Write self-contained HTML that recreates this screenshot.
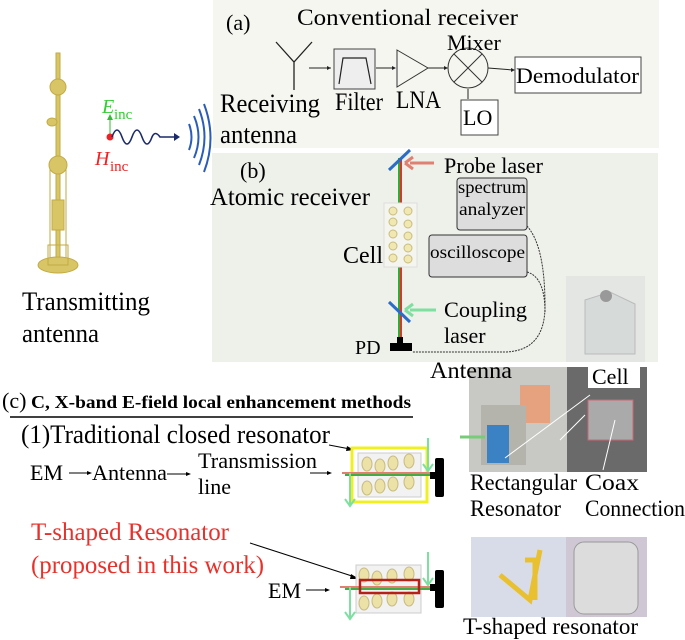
<!DOCTYPE html>
<html><head><meta charset="utf-8"><style>
body{margin:0;background:#fff}
svg{display:block;font-family:"Liberation Serif",serif}
</style></head><body>
<svg width="685" height="640" viewBox="0 0 685 640" xmlns="http://www.w3.org/2000/svg">
<rect x="213" y="0" width="446" height="148" fill="#f6f6f0"/>
<rect x="212" y="153" width="446" height="209" fill="#eef0ea"/>
<!-- (a) -->
<text x="226" y="30" font-size="22">(a)</text>
<text x="297" y="25" font-size="23" textLength="221" lengthAdjust="spacingAndGlyphs">Conventional receiver</text>
<path d="M276 42 L294 62 L312 42 M294 62 L294 90" stroke="#222" stroke-width="1.3" fill="none"/>
<line x1="309" y1="68" x2="331" y2="68" stroke="#222"/><path d="M331 68 l-4 -2 v4z" fill="#222"/>
<rect x="334" y="49" width="41" height="40" fill="#eee" stroke="#444"/>
<path d="M339 84 L343 58 L366 58 L371 84" stroke="#222" fill="none" stroke-width="1.2"/>
<line x1="376" y1="68" x2="395" y2="68" stroke="#222"/><path d="M396 68 l-4 -2 v4z" fill="#222"/>
<path d="M397 50 L428 68 L397 87Z" fill="none" stroke="#333"/>
<line x1="428" y1="68" x2="447" y2="68" stroke="#222"/><path d="M448 68 l-4 -2 v4z" fill="#222"/>
<circle cx="468" cy="68" r="20" fill="none" stroke="#333"/>
<path d="M454 54 L482 82 M482 54 L454 82" stroke="#333"/>
<line x1="488" y1="68" x2="513" y2="70" stroke="#222"/><path d="M515 70 l-4 -2 v4z" fill="#222"/>
<rect x="515" y="57" width="126" height="36" fill="#fff" stroke="#444"/>
<text x="516" y="83" font-size="22" textLength="123" lengthAdjust="spacingAndGlyphs">Demodulator</text>
<text x="447" y="50" font-size="22">Mixer</text>
<line x1="468" y1="99" x2="468" y2="89" stroke="#222"/>
<rect x="461" y="100" width="37" height="35" fill="#fff" stroke="#444"/>
<text x="463" y="125" font-size="22">LO</text>
<text x="220" y="112" font-size="26" textLength="100" lengthAdjust="spacingAndGlyphs">Receiving</text>
<text x="220" y="143" font-size="26" textLength="77" lengthAdjust="spacingAndGlyphs">antenna</text>
<text x="335" y="110" font-size="25" textLength="48" lengthAdjust="spacingAndGlyphs">Filter</text>
<text x="396" y="108" font-size="25" textLength="45" lengthAdjust="spacingAndGlyphs">LNA</text>
<!-- tower -->
<g fill="#d8c566" stroke="#c2ab45">
<rect x="56" y="53" width="4" height="210"/>
<rect x="50" y="165" width="16" height="95" fill="none"/>
<circle cx="58" cy="87" r="8"/><circle cx="58" cy="165" r="9"/>
<ellipse cx="52" cy="122" rx="5" ry="4"/>
<rect x="52" y="200" width="12" height="30"/>
<ellipse cx="58" cy="265" rx="20" ry="8"/>
<rect x="48" y="245" width="20" height="20" fill="none"/>
</g>
<text x="22" y="310" font-size="26" textLength="128" lengthAdjust="spacingAndGlyphs">Transmitting</text>
<text x="22" y="342" font-size="26" textLength="77" lengthAdjust="spacingAndGlyphs">antenna</text>
<!-- E/H -->
<line x1="110" y1="136" x2="110" y2="118" stroke="#3b3"/><path d="M110 114 l-3 6 h6z" fill="#3b3"/>
<text x="102" y="113" font-size="20" font-style="italic" fill="#3c3">E</text><text x="114" y="119" font-size="15" fill="#3c3">inc</text>
<circle cx="110" cy="137" r="3.5" fill="#e22"/>
<text x="95" y="165" font-size="20" font-style="italic" fill="#e22">H</text><text x="110" y="171" font-size="15" fill="#e22">inc</text>
<path d="M112 137 q5 -14 10 0 t10 0 t10 0 t10 0 q3 -7 8 0 h17" stroke="#1a2a6a" stroke-width="1.6" fill="none"/>
<path d="M180 137 l-6 -4 v8z" fill="#1a2a6a"/>
<g stroke="#2a5cb8" stroke-width="2" fill="none">
<path d="M189 124 q5 13 0 26"/><path d="M194 116 q9 21 0 42"/><path d="M199 109 q11 28 0 56"/><path d="M204 104 q13 34 0 68"/>
</g>
<!-- (b) -->
<text x="240" y="178" font-size="22">(b)</text>
<text x="210" y="205" font-size="25" textLength="160" lengthAdjust="spacingAndGlyphs">Atomic receiver</text>
<line x1="399" y1="158" x2="399" y2="340" stroke="#3a3" stroke-width="2"/>
<line x1="401" y1="158" x2="401" y2="340" stroke="#d33" stroke-width="2"/>
<line x1="389" y1="170" x2="410" y2="150" stroke="#2a6cc8" stroke-width="3"/>
<line x1="389" y1="302" x2="410" y2="322" stroke="#2a6cc8" stroke-width="3"/>
<line x1="434" y1="163" x2="410" y2="163" stroke="#e08070" stroke-width="3"/><path d="M405 163 l8 -6 M405 163 l8 6" stroke="#e08070" stroke-width="3"/>
<text x="444" y="173" font-size="22" textLength="99" lengthAdjust="spacingAndGlyphs">Probe laser</text>
<line x1="436" y1="310" x2="410" y2="310" stroke="#7de0a0" stroke-width="3"/><path d="M405 310 l8 -6 M405 310 l8 6" stroke="#7de0a0" stroke-width="3"/>
<text x="444" y="317" font-size="22" textLength="83" lengthAdjust="spacingAndGlyphs">Coupling</text>
<text x="444" y="343" font-size="22">laser</text>
<rect x="384" y="203" width="33" height="64" fill="#f5f5ef" stroke="#ddd"/>
<g fill="#f0e8b0" stroke="#c8bc80">
<circle cx="393" cy="211" r="4"/><circle cx="408" cy="211" r="4"/><circle cx="393" cy="222" r="4"/><circle cx="408" cy="224" r="4"/><circle cx="393" cy="234" r="4"/><circle cx="408" cy="236" r="4"/><circle cx="393" cy="246" r="4"/><circle cx="408" cy="248" r="4"/><circle cx="393" cy="258" r="4"/><circle cx="408" cy="259" r="4"/>
</g>
<text x="343" y="263" font-size="24">Cell</text>
<rect x="457" y="178" width="70" height="52" rx="3" fill="#ddd" stroke="#333"/>
<text x="458" y="193" font-size="18" textLength="68" lengthAdjust="spacingAndGlyphs">spectrum</text><text x="459" y="215" font-size="18" textLength="66" lengthAdjust="spacingAndGlyphs">analyzer</text>
<rect x="429" y="235" width="98" height="42" rx="3" fill="#ddd" stroke="#333"/>
<text x="430" y="258" font-size="18" textLength="95" lengthAdjust="spacingAndGlyphs">oscilloscope</text>
<path d="M527 226 q18 20 18 80 q0 45 -40 46 h-93 M527 272 q18 5 18 40" stroke="#333" fill="none" stroke-dasharray="2 1"/>
<rect x="390" y="343" width="22" height="8" fill="#000"/><rect x="397" y="337" width="6" height="7" fill="#000"/>
<text x="355" y="354" font-size="20">PD</text>
<!-- photos -->
<rect x="566" y="276" width="79" height="86" fill="#e4e6e4"/>
<path d="M585 300 l25 -8 l25 12 v50 l-50 0z" fill="#d6dad8" stroke="#bbb"/>
<circle cx="606" cy="296" r="6" fill="#999"/>
<rect x="469" y="367" width="178" height="105" fill="#9c9c9c"/>
<rect x="469" y="367" width="98" height="105" fill="#c8c8c4"/>
<rect x="567" y="367" width="80" height="105" fill="#6a6a6a"/>
<rect x="520" y="385" width="30" height="38" fill="#e6a27e"/>
<rect x="481" y="405" width="45" height="60" fill="#b4b4ac"/>
<rect x="487" y="425" width="22" height="38" fill="#3b82c4"/>
<rect x="588" y="400" width="45" height="40" fill="#aaa" stroke="#c67"/>
<text x="430" y="378" font-size="23" textLength="82" lengthAdjust="spacingAndGlyphs">Antenna</text>
<rect x="588" y="362" width="52" height="26" fill="#fff"/>
<text x="592" y="384" font-size="22">Cell</text>
<path d="M590 395 L505 458 M585 415 L560 440 M615 420 L603 470" stroke="#fff"/>
<line x1="460" y1="437" x2="485" y2="437" stroke="#7c7" stroke-width="3"/>
<rect x="471" y="537" width="95" height="80" fill="#d8dce8"/>
<rect x="566" y="537" width="81" height="80" fill="#cfc8d4"/>
<path d="M500 575 l30 25 l10 -50 M525 560 h10 v40" stroke="#e8c030" stroke-width="5" fill="none"/>
<rect x="574" y="542" width="64" height="72" rx="10" fill="#dcdcdc" stroke="#999"/>
<text x="470" y="490" font-size="23" textLength="107" lengthAdjust="spacingAndGlyphs">Rectangular</text>
<text x="585" y="490" font-size="23" textLength="54" lengthAdjust="spacingAndGlyphs">Coax</text>
<text x="470" y="516" font-size="23" textLength="91" lengthAdjust="spacingAndGlyphs">Resonator</text>
<text x="585" y="516" font-size="23" textLength="100" lengthAdjust="spacingAndGlyphs">Connection</text>
<text x="463" y="634" font-size="23" textLength="175" lengthAdjust="spacingAndGlyphs">T-shaped resonator</text>
<!-- (c) -->
<text x="2" y="408" font-size="22">(c)</text>
<text x="31" y="408" font-size="18" font-weight="bold" textLength="380" lengthAdjust="spacingAndGlyphs">C, X-band E-field local enhancement methods</text>
<line x1="10" y1="417" x2="413" y2="417" stroke="#000" stroke-width="1.5"/>
<text x="21" y="443" font-size="26" textLength="309" lengthAdjust="spacingAndGlyphs">(1)Traditional closed resonator</text>
<line x1="329" y1="445" x2="350" y2="449" stroke="#000"/><path d="M354 450 l-7 -4 l-1 5z" fill="#000"/>
<text x="30" y="480" font-size="22">EM</text>
<line x1="69" y1="473" x2="90" y2="473" stroke="#000"/><path d="M92 473 l-5 -2 v4z" fill="#000"/>
<text x="92" y="480" font-size="22" textLength="75" lengthAdjust="spacingAndGlyphs">Antenna</text>
<line x1="167" y1="474" x2="189" y2="474" stroke="#000"/><path d="M191 474 l-5 -2 v4z" fill="#000"/>
<text x="198" y="468" font-size="22" textLength="119" lengthAdjust="spacingAndGlyphs">Transmission</text>
<text x="198" y="494" font-size="22">line</text>
<line x1="310" y1="473" x2="330" y2="473" stroke="#000"/><path d="M332 473 l-5 -2 v4z" fill="#000"/>
<rect x="352" y="448" width="75" height="54" fill="#fff" stroke="#f0f020" stroke-width="3"/>
<rect x="358" y="453" width="63" height="44" fill="#f2f2f2" stroke="#ccc"/>
<g fill="#ece2a8" stroke="#c8bc80">
<ellipse cx="367" cy="464" rx="5" ry="7"/><ellipse cx="380" cy="466" rx="5" ry="7"/><ellipse cx="393" cy="463" rx="5" ry="7"/><ellipse cx="409" cy="461" rx="5" ry="7"/>
<ellipse cx="367" cy="488" rx="5" ry="7"/><ellipse cx="380" cy="486" rx="5" ry="7"/><ellipse cx="393" cy="484" rx="5" ry="7"/><ellipse cx="409" cy="482" rx="5" ry="7"/>
</g>
<line x1="342" y1="473" x2="432" y2="473" stroke="#e08070" stroke-width="2"/>
<line x1="345" y1="475" x2="432" y2="475" stroke="#4a4" stroke-width="2"/>
<line x1="350" y1="473" x2="350" y2="505" stroke="#7de0a0" stroke-width="2"/><path d="M345 499 l5 7 l5 -7" stroke="#7de0a0" fill="none" stroke-width="2"/>
<line x1="428" y1="438" x2="428" y2="470" stroke="#7de0a0" stroke-width="2"/><path d="M423 464 l5 7 l5 -7" stroke="#7de0a0" fill="none" stroke-width="2"/>
<rect x="435" y="458" width="9" height="39" rx="2" fill="#000"/><rect x="430" y="472" width="6" height="7" fill="#000"/>
<text x="31" y="540" font-size="25" fill="#e8312a" textLength="198" lengthAdjust="spacingAndGlyphs">T-shaped Resonator</text>
<text x="31" y="573" font-size="25" fill="#e8312a" textLength="233" lengthAdjust="spacingAndGlyphs">(proposed in this work)</text>
<line x1="250" y1="543" x2="355" y2="577" stroke="#000"/><path d="M359 579 l-8 -5 l-1 5z" fill="#000"/>
<text x="268" y="598" font-size="22">EM</text>
<line x1="306" y1="590" x2="328" y2="590" stroke="#000"/><path d="M330 590 l-5 -2 v4z" fill="#000"/>
<rect x="356" y="565" width="65" height="48" fill="#f2f2f2" stroke="#ccc"/>
<g fill="#ece2a8" stroke="#c8bc80">
<ellipse cx="364" cy="575" rx="5" ry="7"/><ellipse cx="377" cy="578" rx="5" ry="7"/><ellipse cx="392" cy="576" rx="5" ry="7"/><ellipse cx="409" cy="574" rx="5" ry="7"/>
<ellipse cx="364" cy="603" rx="5" ry="7"/><ellipse cx="377" cy="601" rx="5" ry="7"/><ellipse cx="392" cy="599" rx="5" ry="7"/><ellipse cx="409" cy="599" rx="5" ry="7"/>
</g>
<line x1="340" y1="587" x2="430" y2="587" stroke="#e08070" stroke-width="2"/>
<line x1="345" y1="589" x2="430" y2="589" stroke="#4a4" stroke-width="2"/>
<rect x="360" y="580" width="59" height="13" fill="none" stroke="#b52018" stroke-width="2.5"/>
<line x1="350" y1="587" x2="350" y2="618" stroke="#7de0a0" stroke-width="2"/><path d="M345 612 l5 7 l5 -7" stroke="#7de0a0" fill="none" stroke-width="2"/>
<line x1="428" y1="552" x2="428" y2="584" stroke="#7de0a0" stroke-width="2"/><path d="M423 578 l5 7 l5 -7" stroke="#7de0a0" fill="none" stroke-width="2"/>
<rect x="435" y="570" width="9" height="38" rx="2" fill="#000"/><rect x="430" y="584" width="6" height="7" fill="#000"/>
</svg>
</body></html>
